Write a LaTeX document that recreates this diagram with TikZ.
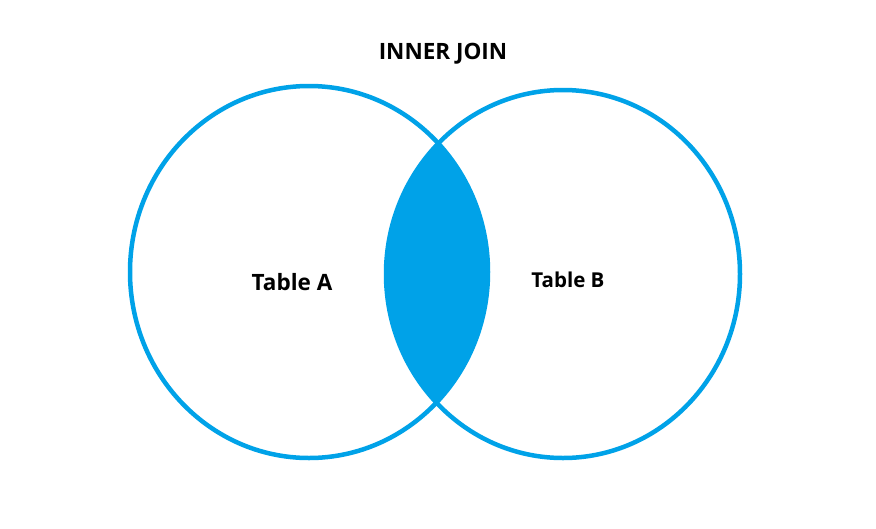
\documentclass[tikz,border=0pt]{standalone}
\usepackage{fontspec}
\setmainfont{Open Sans}
\definecolor{vblue}{HTML}{00A2E8}
\begin{document}
\begin{tikzpicture}[x=1pt,y=-1pt,
  setring/.style={draw=vblue,line width=4.5pt},
  lbl/.style={font=\bfseries,text=black,inner sep=0pt}]
\useasboundingbox[fill=white] (0,0) rectangle (876,528);
\begin{scope}
  \clip (309,272) ellipse [x radius=179, y radius=186];
  \fill[vblue] (563,274) ellipse [x radius=177, y radius=184];
\end{scope}
\draw[setring] (309,272) ellipse [x radius=179, y radius=186];
\draw[setring] (563,274) ellipse [x radius=177, y radius=184];
\node[lbl,font=\fontsize{22.5}{27}\selectfont\bfseries] (title) at (443,54) {INNER JOIN};
\node[lbl,font=\fontsize{22.5}{27}\selectfont\bfseries] (ta) at (292,282) {Table A};
\node[lbl,font=\fontsize{20.5}{25}\selectfont\bfseries] (tb) at (568,280) {Table B};
\end{tikzpicture}
\end{document}
